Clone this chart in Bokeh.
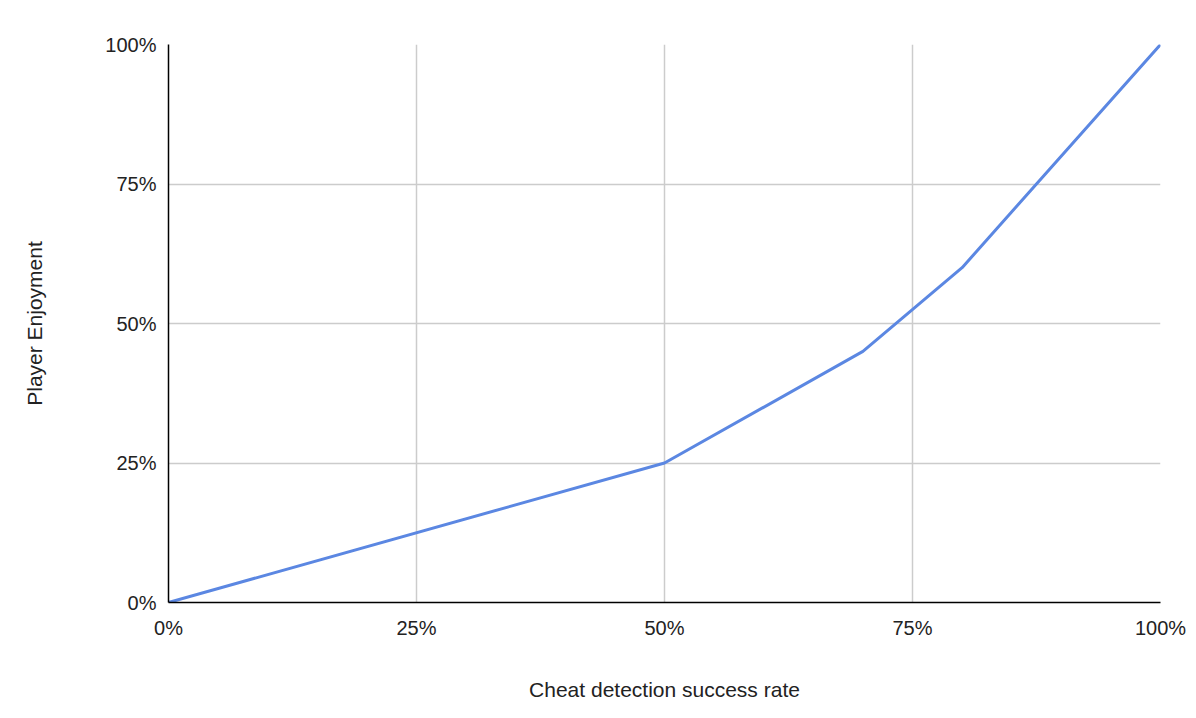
from bokeh.plotting import figure
from bokeh.models import Range1d, NumeralTickFormatter, FixedTicker
from bokeh.embed import file_html
from bokeh.resources import INLINE

# data
detection_rate = [0.0, 0.5, 0.7, 0.8, 1.0]
enjoyment = [0.0, 0.25, 0.45, 0.6, 1.0]
ticks = [0, 0.25, 0.5, 0.75, 1.0]

p = figure(width=1188, height=710, output_backend="svg", toolbar_location=None,
           x_range=Range1d(0, 1), y_range=Range1d(0, 1),
           x_axis_label="Cheat detection success rate", y_axis_label="Player Enjoyment",
           min_border_left=168, min_border_right=28, min_border_top=44, min_border_bottom=108)
p.outline_line_color = None

p.line(detection_rate, enjoyment, line_color="#5b87e2", line_width=3)

for ax in (p.xaxis, p.yaxis):
    ax.ticker = FixedTicker(ticks=ticks)
    ax.formatter = NumeralTickFormatter(format="0%")
    ax.major_tick_line_color = None
    ax.minor_tick_line_color = None
    ax.axis_line_color = "#000000"
    ax.axis_line_width = 1.5
    ax.major_label_text_font = "Liberation Sans"
    ax.major_label_text_font_size = "20px"
    ax.major_label_text_color = "#222222"
    ax.axis_label_text_font = "Liberation Sans"
    ax.axis_label_text_font_size = "21px"
    ax.axis_label_text_font_style = "normal"
    ax.axis_label_text_color = "#222222"
p.xaxis.major_label_standoff = 8
p.xaxis.axis_label_standoff = 36
p.yaxis.major_label_standoff = 6
p.yaxis.axis_label_standoff = 56

p.xgrid.grid_line_color = "#cccccc"
p.ygrid.grid_line_color = "#cccccc"
p.xgrid.grid_line_width = 1.5
p.ygrid.grid_line_width = 1.5

open("out.html", "w").write(file_html(p, INLINE))
